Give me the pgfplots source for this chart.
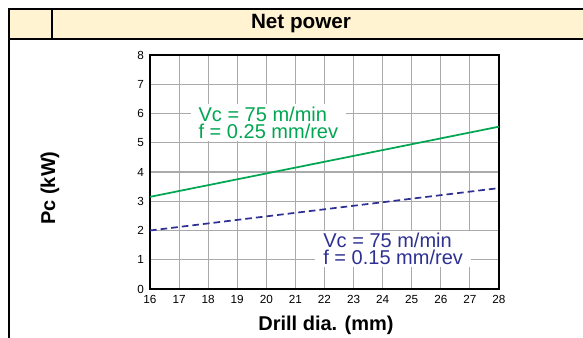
\documentclass[border=0pt]{standalone}
\usepackage{pgfplots}
\pgfplotsset{compat=1.18}
\usepackage{fontspec}
\setmainfont{Liberation Sans}
\definecolor{hdr}{RGB}{255,243,210}
\definecolor{lgreen}{RGB}{0,166,81}
\definecolor{lblue}{RGB}{46,49,146}
\definecolor{gridg}{RGB}{170,170,170}
\begin{document}
\begin{tikzpicture}[x=0.75pt,y=0.75pt]
\useasboundingbox (0,0) rectangle (583,338);
\fill[fill=hdr] (9,329) rectangle (583,299);
\draw[line width=1.2pt] (9,0) -- (9,329) -- (583,329);
\draw[line width=0.8pt] (9,299) -- (583,299);
\draw[line width=0.8pt] (52,329) -- (52,299);
\node[font=\fontsize{15.5}{18}\selectfont\bfseries] at (301,314) {Net power};
\node[font=\fontsize{15}{18}\selectfont\bfseries, rotate=90] at (50,150) {Pc (kW)};
\node[font=\fontsize{15}{18}\selectfont\bfseries] at (326,13) {Drill dia. (mm)};
\begin{axis}[
  at={(112.5pt,36.75pt)}, anchor=south west,
  scale only axis, width=261.75pt, height=175.5pt,
  xmin=16, xmax=28, ymin=0, ymax=8,
  xtick={16,...,28}, ytick={0,...,8},
  grid=major,
  major grid style={gridg, line width=0.8pt},
  axis line style={black, line width=0.8pt},
  major tick length=0pt,
  tick label style={font=\fontsize{8.8}{10}\selectfont},
  /pgf/number format/assume math mode=true,
  xticklabel style={yshift=-1.5pt},
  yticklabel style={xshift=-1pt},
]
\addplot[lgreen, line width=1.3pt] coordinates {(16,3.15) (28,5.55)};
\addplot[lblue, line width=1.3pt, dash pattern=on 5pt off 3pt] coordinates {(16,2.0) (28,3.45)};
\node[fill=white, text=lgreen, align=left, inner xsep=6pt, inner ysep=2pt,
  font=\fontsize{15}{12.5}\selectfont] at (axis cs:20.07,5.69) {Vc = 75 m/min\\f = 0.25 mm/rev};
\node[fill=white, text=lblue, align=left, inner xsep=6pt, inner ysep=2pt,
  font=\fontsize{15}{12.5}\selectfont] at (axis cs:24.36,1.37) {Vc = 75 m/min\\f = 0.15 mm/rev};
\end{axis}
\end{tikzpicture}
\end{document}
